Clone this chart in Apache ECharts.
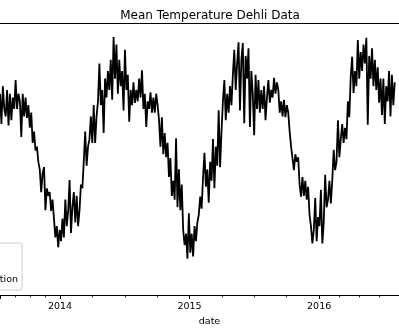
<!DOCTYPE html>
<html><head><meta charset="utf-8">
<script src="https://cdn.jsdelivr.net/npm/echarts@6/dist/echarts.min.js"></script>
<style>html,body{margin:0;padding:0;background:#fff}#c{width:399px;height:333px}</style>
</head><body><div id="c"></div>
<script>
// Data: mean temperature samples (every 4 days)
const startDate = [2013, 6, 16]; // 2013-07-16 (month is 0-based)
const stepDays = 4;
const meanTemp = [
31,27,32,29, 28,31.5,26.8, 31,27.5,30.5,29, 32.8,29,31, 30,25.3,31, 28,30.5,27.8,29.5,
26.5,28.5,24.5, 26,23.5,24,22, 21,18,20.5, 21.3,15.6,18.5,17.5, 18,15.5,17, 14.5,12,13.5,10.7,
13,11.5,14.5, 12,17,13.5,15.5, 19.6,12.6,16, 18,14,17.5,13.5, 15.6,19,18.5, 22,26,21.5,24,
25,28,24.5, 29.5,24.5,28,30, 35,29.5,31.5, 25.8,33,30.5,34, 31.5,35.5,30.2, 38.5,33,37.5,31,
35.5,32,34, 28.8,36.8,31.5,33.5, 27.3,31.5,29.5, 32.5,29.8,31.5,30, 33,30.5,34.1, 29,31,26.6,30,
29,31.2,28.5, 30.5,28.5,31,29.5, 27.5,24,27.9, 23,25.8,22.6,24.5, 20,22.5,17.5, 19.5,17,25.1,16,
21,15.6,19, 13,11,12.5,9.2, 15.2,10,12.5, 9.5,13.5,11.5,14, 15,17.4,15.8, 20,23.2,18.7,21,
16.6,22,19.5, 25,18.5,24,21.5, 28.8,21.3,26, 30,32.8,27.5,31, 28.5,32,29.5, 33.5,36.8,31.5,35,
37.8,28.8,35.5, 37.7,27.1,36,33, 37,26.6,34, 31,25.5,33.5,29, 32.8,28.5,31.5, 29,32,27.5,30.5,
32.8,29.8,31.5, 30.5,33.1,31,32.5, 31.5,28.5,30, 28,30.2,27.9,29.5, 28.5,26,24, 24,20.9,23,22,
22.6,19,17.4, 20,17.5,19.5,17, 18.7,15,13.5, 11.2,13,17.2,11.5, 14.7,13.5,18.3, 11.2,14,20.3,16,
17,19.5,16.5, 19.5,23.6,20.9,22, 27.5,22.6,25, 27,24.5,26.5,25, 30,27.9,33.2, 35.9,31.1,34,32,
38.1,33,36.5, 34,37.5,35,38.4, 26.9,36,33, 37,32,35.5,31.5, 34.5,29.8,33, 28.2,33,27,32,
30,34,28, 33.5,29.5,32.5
];
const titleText = 'Mean Temperature Dehli Data';
const xAxisName = 'date';
const legendText = 'tion';
const xMin = [2013, 6, 16];
const xMax = [2016, 7, 13];

const seriesData = meanTemp.map((v, i) =>
  [new Date(startDate[0], startDate[1], startDate[2] + i * stepDays).getTime(), v]);

const chart = echarts.init(document.getElementById('c'), null, {renderer: 'canvas'});
const FONT = 'DejaVu Sans';
const YEAR = 365 * 24 * 3600 * 1000;
chart.setOption({
  animation: false,
  backgroundColor: '#ffffff',
  textStyle: {fontFamily: FONT},
  title: {
    text: titleText, left: 205, top: 5, textAlign: 'center',
    textStyle: {fontFamily: FONT, fontSize: 12, fontWeight: 'normal', color: '#000'}
  },
  grid: {left: 0, right: 0, top: 23, bottom: 37.5, containLabel: false},
  xAxis: [{
    type: 'time',
    min: new Date(xMin[0], xMin[1], xMin[2]).getTime(),
    max: new Date(xMax[0], xMax[1], xMax[2]).getTime(),
    minInterval: YEAR, maxInterval: YEAR + 86400000,
    name: xAxisName, nameLocation: 'middle', nameGap: 20,
    nameTextStyle: {fontFamily: FONT, fontSize: 9.5, color: '#000', padding: [0, 0, 0, 20]},
    axisLine: {lineStyle: {color: '#000', width: 1}},
    axisTick: {length: 3.5, lineStyle: {color: '#000', width: 1}},
    minorTick: {show: true, splitNumber: 4, length: 2, lineStyle: {color: '#000', width: 0.8}},
    axisLabel: {formatter: '{yyyy}', fontFamily: FONT, fontSize: 9.5, color: '#000', margin: 6,
      showMinLabel: false, showMaxLabel: false},
    splitLine: {show: false}
  }, {
    type: 'time', position: 'top',
    min: new Date(xMin[0], xMin[1], xMin[2]).getTime(),
    max: new Date(xMax[0], xMax[1], xMax[2]).getTime(),
    axisLine: {lineStyle: {color: '#000', width: 1}},
    axisTick: {show: false}, axisLabel: {show: false}, splitLine: {show: false}
  }],
  yAxis: {
    type: 'value', min: 4.33, max: 40.35,
    axisLine: {show: false}, axisTick: {show: false}, axisLabel: {show: false}, splitLine: {show: false}
  },
  series: [{
    type: 'line', data: seriesData, showSymbol: false, symbol: 'none',
    lineStyle: {color: '#000', width: 1.8}, clip: true
  }],
  graphic: [{
    type: 'rect', shape: {x: -60, y: 243, width: 82, height: 47, r: 2},
    style: {fill: 'rgba(255,255,255,0.8)', stroke: '#cccccc', lineWidth: 1}, z: 100
  }, {
    type: 'text', x: 18, y: 280,
    style: {text: legendText, fill: '#000', font: '9.5px "DejaVu Sans"', align: 'right', verticalAlign: 'middle'}, z: 101
  }]
});
</script></body></html>
